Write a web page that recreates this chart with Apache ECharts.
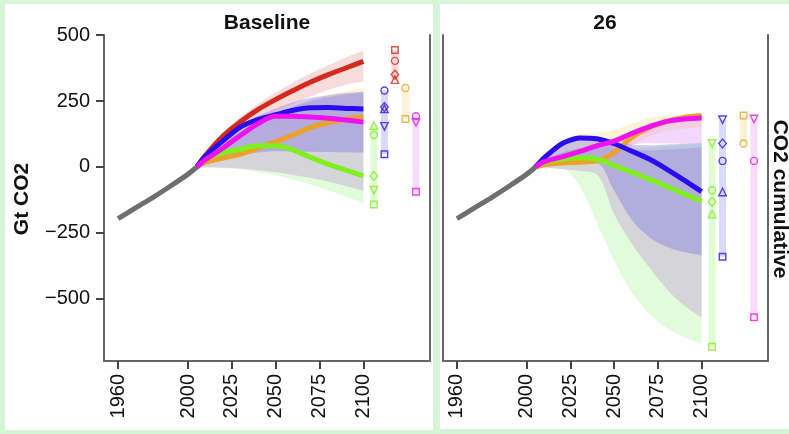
<!DOCTYPE html>
<html><head><meta charset="utf-8">
<script src="https://cdn.jsdelivr.net/npm/echarts@6/dist/echarts.min.js"></script>
<style>html,body{margin:0;padding:0;background:#d6f5d6;}#c{width:789px;height:434px;}</style>
</head><body><div id="c"></div>
<script>
// ---------------- data ----------------
const xTicks = [1960, 2000, 2025, 2050, 2075, 2100];
const yTicks = [-500, -250, 0, 250, 500];
const panelTitles = ['Baseline', '26'];
const stripLabel = 'CO2 cumulative';
const yTitle = 'Gt CO2';

const histYears = [1960, 1970, 1980, 1990, 2000, 2005];
const histCO2 = [-196, -155, -115, -72, -27, 0];
const projYears = [2005, 2010, 2020, 2030, 2040, 2050, 2060, 2070, 2080, 2090, 2100];

// Baseline panel: model medians
const baseGreen   = [0, 33, 54, 68, 80, 80, 64, 36, 10, -12, -34];
const baseBlue    = [0, 42, 100, 152, 180, 198, 215, 224, 225, 222, 220];
const baseRed     = [0, 45, 118, 172, 218, 256, 290, 322, 350, 375, 400];
const baseOrange  = [0, 18, 34, 49, 72, 96, 122, 150, 168, 181, 189];
const baseMagenta = [0, 28, 72, 120, 165, 192, 192, 189, 185, 178, 170];
// Baseline panel: ranges
const baseGreenLo   = [0, -2, -5, -10, -20, -32, -48, -66, -88, -112, -138];
const baseGreenHi   = [0, 38, 65, 85, 105, 115, 122, 130, 140, 150, 157];
const baseGrayLo    = [0, -1, -3, -6, -12, -20, -30, -42, -55, -72, -90];
const baseGrayHi    = [0, 40, 95, 135, 170, 200, 228, 250, 265, 275, 282];
const baseBlueLo    = [0, 20, 35, 45, 55, 60, 60, 58, 57, 56, 55];
const baseBlueHi    = [0, 45, 110, 160, 195, 222, 245, 262, 272, 280, 285];
const baseRedLo     = [0, 40, 100, 145, 180, 212, 240, 268, 292, 312, 325];
const baseRedHi     = [0, 50, 130, 190, 240, 282, 320, 355, 385, 415, 440];
const baseOrangeLo  = [0, 12, 22, 32, 45, 65, 90, 115, 140, 165, 180];
const baseOrangeHi  = [0, 25, 55, 90, 135, 185, 230, 255, 272, 287, 298];
const baseMagentaLo = [0, 18, 55, 95, 135, 160, 165, 162, 158, 152, 145];
const baseMagentaHi = [0, 30, 82, 128, 172, 200, 202, 200, 196, 192, 192];

// "26" panel: model medians
const p26Green   = [0, 18, 30, 35, 30, 5, -20, -46, -74, -102, -130];
const p26Blue    = [0, 35, 88, 110, 107, 88, 60, 30, -8, -50, -93];
const p26Orange  = [0, 8, 15, 18, 23, 55, 112, 150, 172, 188, 195];
const p26Magenta = [0, 20, 38, 58, 80, 98, 127, 152, 173, 182, 186];
// "26" panel: ranges
const p26GreenLo   = [0, -3, -6, -70, -210, -355, -475, -555, -610, -645, -670];
const p26GreenHi   = [0, 22, 40, 50, 55, 60, 68, 75, 80, 85, 89];
const p26GrayLo    = [0, -2, -8, -15, -28, -180, -290, -380, -462, -525, -570];
const p26GrayHi    = [0, 25, 55, 70, 75, 70, 62, 62, 66, 70, 75];
const p26BlueLo    = [0, 5, 12, 18, 15, -90, -200, -265, -302, -322, -335];
const p26BlueHi    = [0, 40, 92, 115, 112, 95, 85, 82, 85, 88, 90];
const p26OrangeLo  = [0, 3, 8, 10, 12, 35, 80, 115, 135, 145, 150];
const p26OrangeHi  = [0, 30, 100, 125, 130, 140, 165, 185, 195, 198, 198];
const p26MagentaLo = [0, 10, 22, 35, 50, 65, 85, 90, 90, 88, 88];
const p26MagentaHi = [0, 25, 45, 68, 90, 110, 138, 165, 180, 188, 192];

// 2100 cumulative values per scenario variant (order: square, circle, triangle up, diamond, triangle down)
const scenarioShapes = ['square', 'circle', 'triUp', 'diamond', 'triDown'];
const baseMarkGreen   = [-142, 121, 157, -34, -88];
const baseMarkBlue    = [48, 290, 220, 227, 154];
const baseMarkRed     = [443, 402, 331, 350, null];
const baseMarkOrange  = [182, 299, null, null, null];
const baseMarkMagenta = [-94, 192, null, null, 169];
const p26MarkGreen    = [-681, -88, -178, -132, 89];
const p26MarkBlue     = [-340, 23, -95, 89, 179];
const p26MarkOrange   = [195, 89, null, null, null];
const p26MarkMagenta  = [-569, 23, null, null, 182];

// ---------------- styling / layout ----------------
const FONT = '"Liberation Sans", Arial, Helvetica, sans-serif';
const AXC = '#666';
const COL = {
  green: '#7ff01e', blue: '#2a0cf2', red: '#d42a1e', orange: '#eba228', magenta: '#ee12ee', gray: '#6f6f6f'
};
const BAND = {
  green: 'rgba(140,245,110,0.25)', gray: 'rgba(212,208,216,0.92)', blue: 'rgba(110,90,230,0.32)',
  red: 'rgba(225,110,110,0.24)', orange: 'rgba(250,215,120,0.3)', magenta: 'rgba(215,110,250,0.28)'
};
const RANGEBAR = {
  green: 'rgba(120,240,60,0.22)', blue: 'rgba(70,70,240,0.2)', red: 'rgba(220,60,60,0.2)',
  orange: 'rgba(240,190,60,0.22)', magenta: 'rgba(225,80,240,0.2)'
};
const SLOT = { green: 2106, blue: 2112, red: 2118, orange: 2124, magenta: 2130 };
const SYM = {
  square: { symbol: 'rect', rot: 0, size: 6.5 },
  circle: { symbol: 'circle', rot: 0, size: 7 },
  triUp: { symbol: 'triangle', rot: 0, size: 7.5 },
  diamond: { symbol: 'diamond', rot: 0, size: [7.5, 9] },
  triDown: { symbol: 'triangle', rot: 180, size: 7.5 }
};

const catYears = [];
for (let y = 1952; y <= 2138; y++) catYears.push(String(y));
const YMIN = -735, YMAX = 500;

const pairs = (xs, ys) => xs.map((x, i) => [String(x), ys[i]]);

const panels = [
  {
    lines: { green: baseGreen, blue: baseBlue, red: baseRed, orange: baseOrange, magenta: baseMagenta },
    bands: [['green', baseGreenLo, baseGreenHi], ['orange', baseOrangeLo, baseOrangeHi], ['magenta', baseMagentaLo, baseMagentaHi],
            ['gray', baseGrayLo, baseGrayHi], ['blue', baseBlueLo, baseBlueHi], ['red', baseRedLo, baseRedHi]],
    marks: { green: baseMarkGreen, blue: baseMarkBlue, red: baseMarkRed, orange: baseMarkOrange, magenta: baseMarkMagenta },
    order: ['orange', 'green', 'red', 'blue', 'magenta']
  },
  {
    lines: { green: p26Green, blue: p26Blue, orange: p26Orange, magenta: p26Magenta },
    bands: [['green', p26GreenLo, p26GreenHi], ['orange', p26OrangeLo, p26OrangeHi], ['magenta', p26MagentaLo, p26MagentaHi],
            ['gray', p26GrayLo, p26GrayHi], ['blue', p26BlueLo, p26BlueHi]],
    marks: { green: p26MarkGreen, blue: p26MarkBlue, orange: p26MarkOrange, magenta: p26MarkMagenta },
    order: ['orange', 'green', 'blue', 'magenta']
  }
];

const series = [];
panels.forEach((pn, p) => {
  pn.bands.forEach(([key, lo, hi]) => {
    const st = 'band' + p + key;
    series.push({
      type: 'line', xAxisIndex: p, yAxisIndex: p, stack: st, stackStrategy: 'all',
      data: pairs(projYears, lo), symbol: 'none', smooth: 0.35, silent: true,
      lineStyle: { width: 0, opacity: 0 }
    });
    series.push({
      type: 'line', xAxisIndex: p, yAxisIndex: p, stack: st, stackStrategy: 'all',
      data: pairs(projYears, hi.map((v, i) => v - lo[i])), symbol: 'none', smooth: 0.35, silent: true,
      lineStyle: { width: 0, opacity: 0 }, areaStyle: { color: BAND[key], opacity: 1 }
    });
  });
  Object.keys(pn.marks).forEach(key => {
    const vals = pn.marks[key];
    const present = vals.filter(v => v != null);
    const slot = String(SLOT[key]);
    series.push({
      type: 'line', xAxisIndex: p, yAxisIndex: p, silent: true, symbol: 'none',
      data: [[slot, Math.min(...present)], [slot, Math.max(...present)]],
      lineStyle: { width: 7, color: RANGEBAR[key], cap: 'butt' }
    });
    const pts = [];
    vals.forEach((v, i) => {
      if (v == null) return;
      const s = SYM[scenarioShapes[i]];
      pts.push({ value: [slot, v], symbol: s.symbol, symbolRotate: s.rot, symbolSize: s.size });
    });
    series.push({
      type: 'scatter', xAxisIndex: p, yAxisIndex: p, silent: true, data: pts,
      itemStyle: { color: 'rgba(255,255,255,0)', borderColor: COL[key], borderWidth: 1.4 }
    });
  });
  series.push({
    type: 'line', xAxisIndex: p, yAxisIndex: p, data: pairs(histYears, histCO2), symbol: 'none',
    smooth: 0.2, lineStyle: { width: 5, color: COL.gray }, silent: true
  });
  pn.order.forEach(key => {
    series.push({
      type: 'line', xAxisIndex: p, yAxisIndex: p, data: pairs(projYears, pn.lines[key]), symbol: 'none',
      smooth: (p === 1 && key === 'blue') ? 0.2 : 0.35, lineStyle: { width: 5, color: COL[key] },
      itemStyle: { color: COL[key] }, silent: true
    });
  });
});

const tickFn = (i, v) => xTicks.indexOf(+v) >= 0;
const xAxisCfg = p => ({
  type: 'category', gridIndex: p, data: catYears, boundaryGap: false,
  axisLine: { show: true, onZero: false, lineStyle: { color: AXC, width: 2 } },
  axisTick: { show: true, interval: tickFn, length: 8, lineStyle: { color: '#444', width: 2 } },
  axisLabel: { interval: tickFn, rotate: 90, margin: 13, fontSize: 20, color: '#111', fontFamily: FONT },
  splitLine: { show: false }
});
const fmtY = v => (v < 0 ? '\u2212' + Math.abs(v) : String(v));
const borderY = (p, pos) => ({
  type: 'value', gridIndex: p, position: pos, min: YMIN, max: YMAX,
  axisLine: { show: true, onZero: false, lineStyle: { color: AXC, width: 2 } },
  axisTick: { show: false }, axisLabel: { show: false }, splitLine: { show: false }
});

const option = {
  animation: false,
  backgroundColor: '#d6f5d6',
  grid: [
    { left: 104, top: 35, width: 326, height: 326, containLabel: false, outerBoundsMode: 'none' },
    { left: 443, top: 35, width: 325, height: 326, containLabel: false, outerBoundsMode: 'none' }
  ],
  xAxis: [xAxisCfg(0), xAxisCfg(1)],
  yAxis: [
    {
      type: 'value', gridIndex: 0, min: YMIN, max: YMAX,
      axisLine: { show: true, onZero: false, lineStyle: { color: AXC, width: 2 } },
      axisTick: { show: true, customValues: yTicks, length: 8, lineStyle: { color: '#444', width: 2 } },
      axisLabel: { show: true, customValues: yTicks, margin: 14, fontSize: 20, color: '#111', fontFamily: FONT, formatter: fmtY },
      splitLine: { show: false }
    },
    borderY(1, 'left'),
    borderY(0, 'right'),
    borderY(1, 'right')
  ],
  graphic: [
    { type: 'rect', z: -10, silent: true, shape: { x: 5, y: 4, width: 428, height: 426 }, style: { fill: '#ffffff' } },
    { type: 'rect', z: -10, silent: true, shape: { x: 440, y: 4, width: 349, height: 425 }, style: { fill: '#ffffff' } },
    { type: 'text', x: 267, y: 23.5, style: { text: panelTitles[0], font: 'bold 21px ' + FONT, fill: '#111', align: 'center', verticalAlign: 'middle', textAlign: 'center', textVerticalAlign: 'middle' } },
    { type: 'text', x: 605, y: 23.5, style: { text: panelTitles[1], font: 'bold 21px ' + FONT, fill: '#111', align: 'center', verticalAlign: 'middle', textAlign: 'center', textVerticalAlign: 'middle' } },
    { type: 'text', x: 22.5, y: 199, rotation: Math.PI / 2, style: { text: yTitle, font: 'bold 21px ' + FONT, fill: '#111', align: 'center', verticalAlign: 'middle', textAlign: 'center', textVerticalAlign: 'middle' } },
    { type: 'text', x: 780, y: 199, rotation: -Math.PI / 2, style: { text: stripLabel, font: 'bold 21px ' + FONT, fill: '#111', align: 'center', verticalAlign: 'middle', textAlign: 'center', textVerticalAlign: 'middle' } }
  ],
  series: series
};

const chart = echarts.init(document.getElementById('c'), null, { renderer: 'canvas' });
chart.setOption(option);
</script>
</body></html>
